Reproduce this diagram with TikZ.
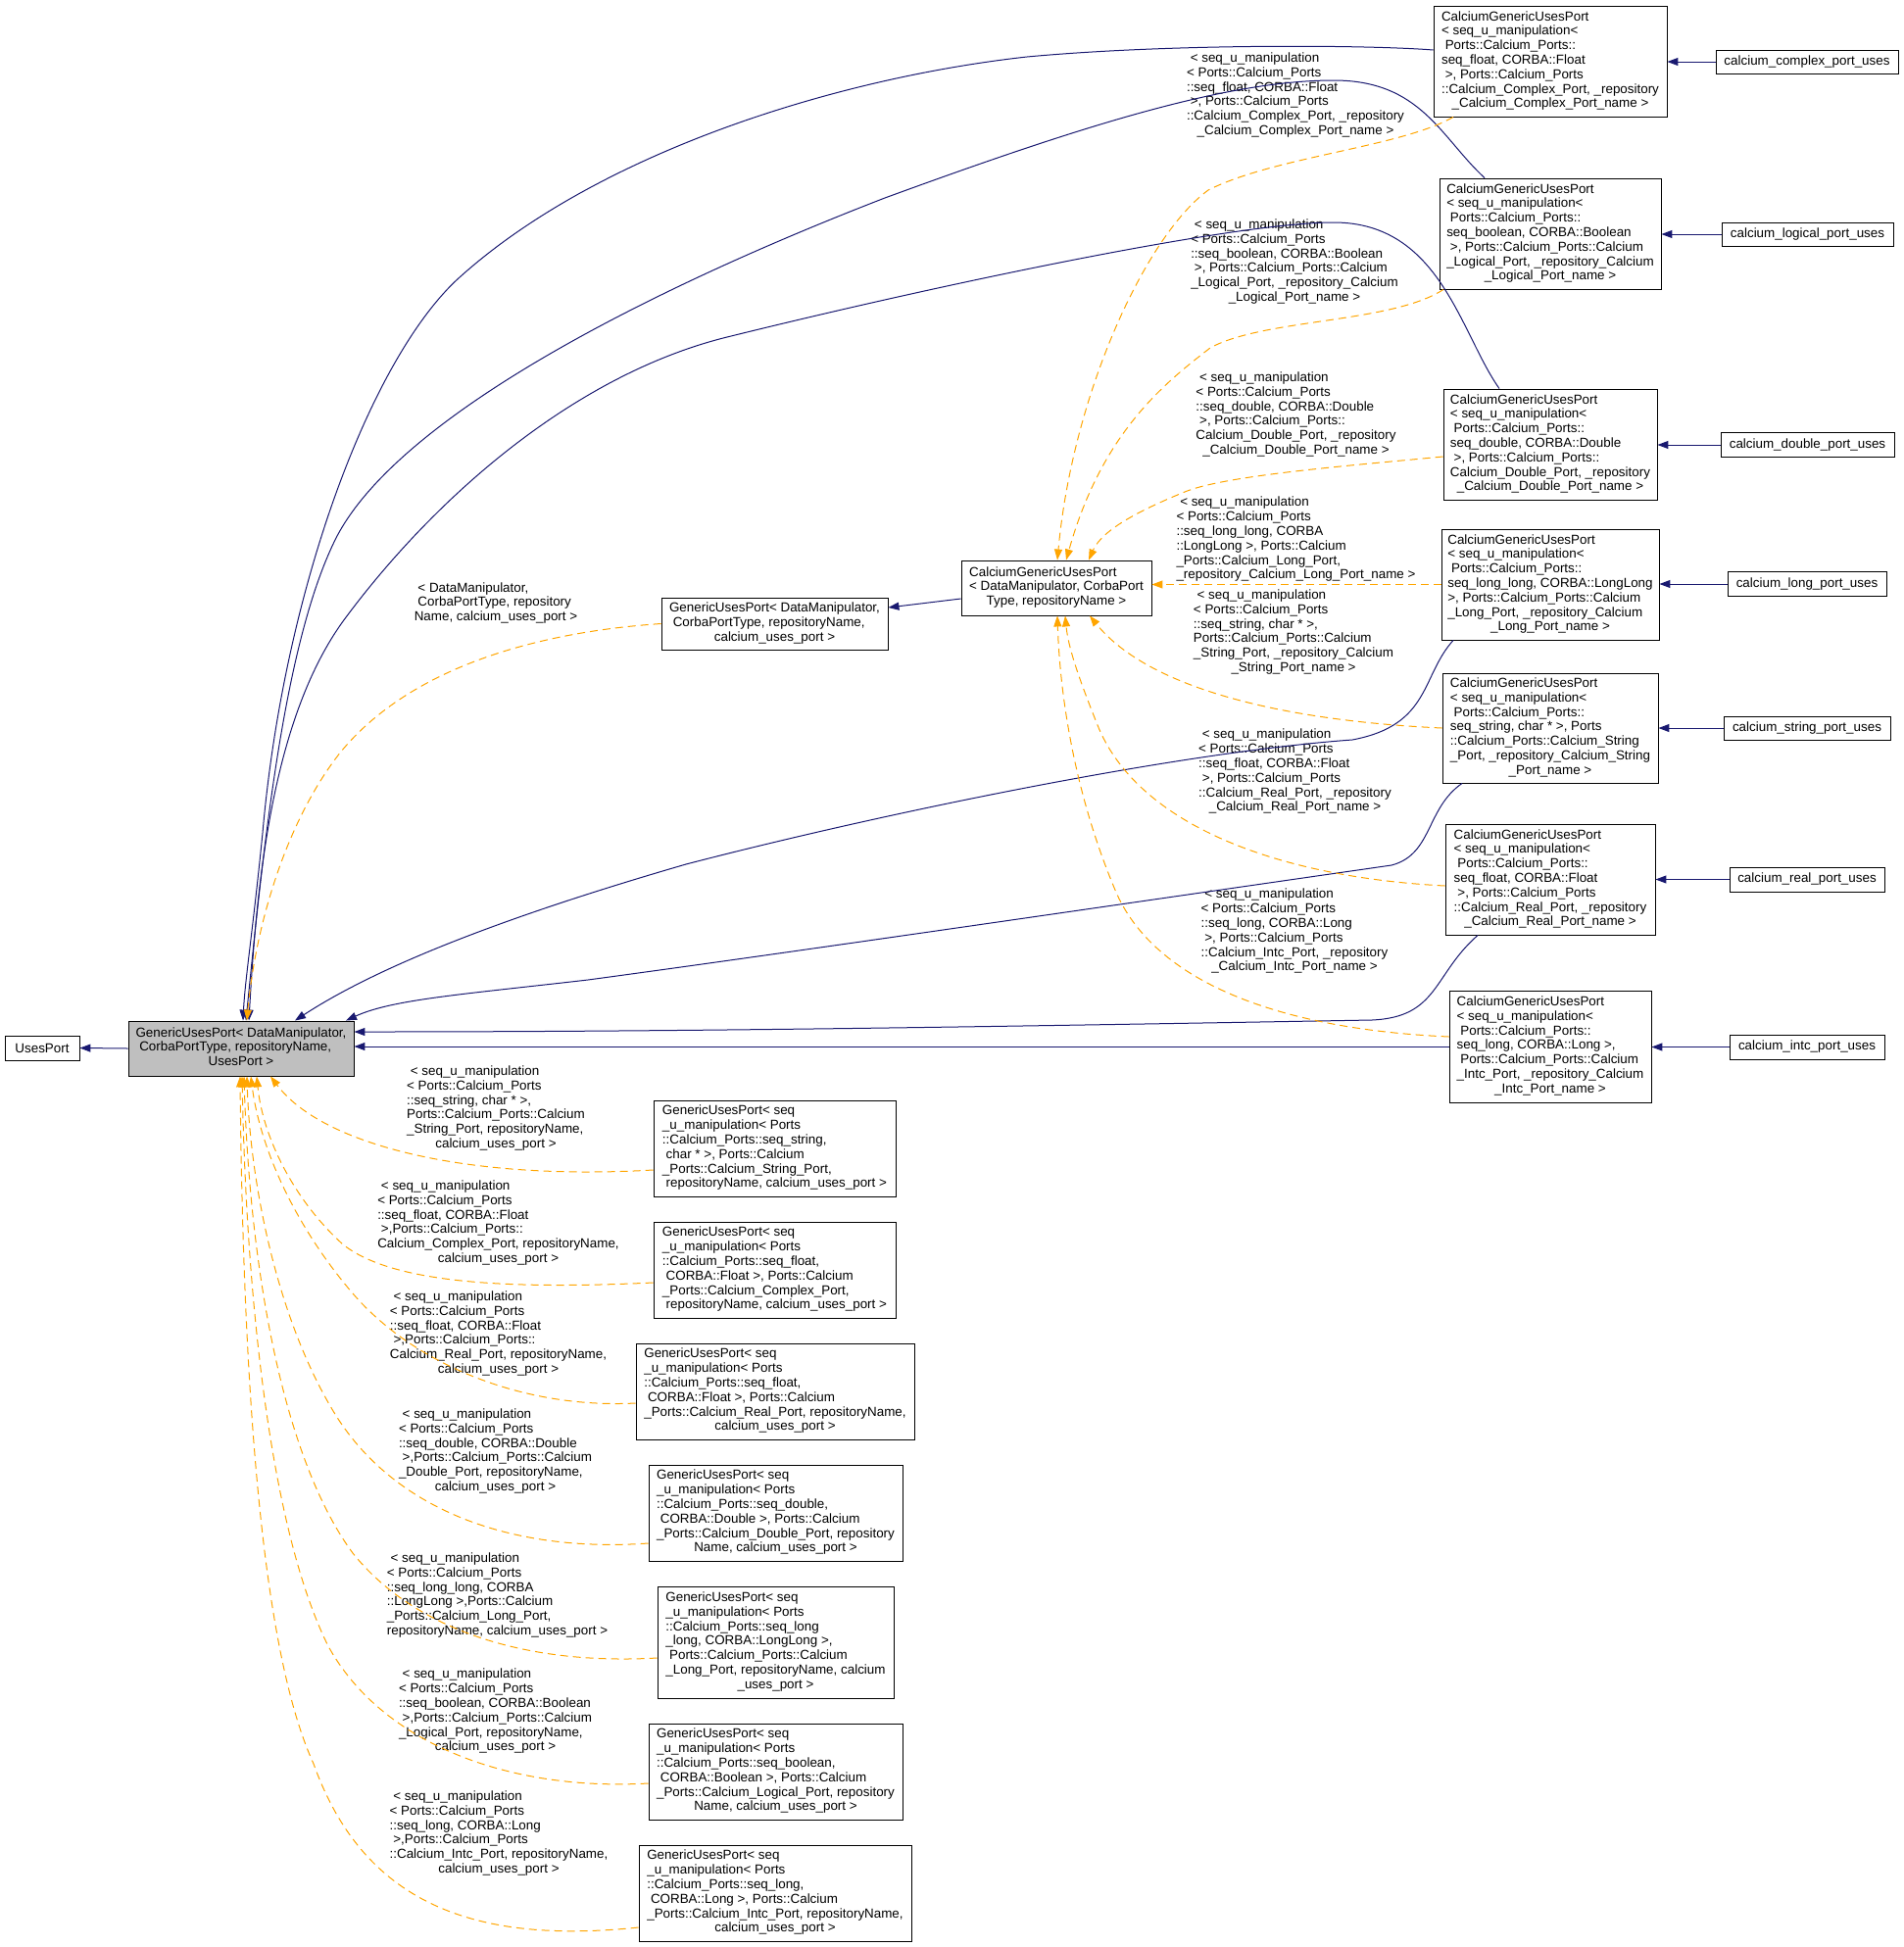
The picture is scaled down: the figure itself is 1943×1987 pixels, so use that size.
\documentclass[tikz,border=0pt]{standalone}
\usepackage{fontspec}
\setmainfont{Liberation Sans}
\usetikzlibrary{arrows.meta}
\definecolor{navy}{RGB}{25,25,112}
\definecolor{dorange}{RGB}{255,165,0}
\definecolor{mgray}{RGB}{191,191,191}
\newcommand\dfont{\fontsize{13.4}{14.8}\selectfont}
\newcommand\dtb[2]{\begin{tabular}{@{}l@{}}#1\\\multicolumn{1}{@{}c@{}}{#2}\end{tabular}}
\tikzset{
 box/.style={draw=black, line width=0.9pt, inner sep=0pt, font=\dfont},
 lbl/.style={inner sep=0pt, font=\dfont},
 inh/.style={draw=navy, line width=1pt, -{Triangle[length=11pt,width=8pt]}},
 tmpl/.style={draw=dorange, line width=1pt, dash pattern=on 8pt off 5pt, -{Triangle[length=11pt,width=8pt]}},
}
\begin{document}
\begin{tikzpicture}[x=1pt,y=-1pt]
\useasboundingbox (0,0) rectangle (1943,1987);
% ---------- main nodes
\node[box, minimum width=76, minimum height=25] (U) at (43,1069.5) {UsesPort};
\node[box, fill=mgray, minimum width=230, minimum height=56] (M) at (246,1070)
 {\dtb{GenericUsesPort< DataManipulator,\\ \ CorbaPortType, repositoryName,}{UsesPort >}};
\node[box, minimum width=231, minimum height=53] (GC) at (790.5,636.5)
 {\dtb{GenericUsesPort< DataManipulator,\\ \ CorbaPortType, repositoryName,}{calcium\_uses\_port >}};
\node[box, minimum width=194, minimum height=56] (CG) at (1078,600)
 {\dtb{CalciumGenericUsesPort\\< DataManipulator, CorbaPort}{Type, repositoryName >}};
% ---------- calcium generic instances
\node[box, minimum width=238, minimum height=113] (C1) at (1582,62.5)
 {\dtb{CalciumGenericUsesPort\\< seq\_u\_manipulation<\\ \ Ports::Calcium\_Ports::\\seq\_float, CORBA::Float\\ \ >, Ports::Calcium\_Ports\\::Calcium\_Complex\_Port, \_repository}{\_Calcium\_Complex\_Port\_name >}};
\node[box, minimum width=226, minimum height=113] (C2) at (1582,238.5)
 {\dtb{CalciumGenericUsesPort\\< seq\_u\_manipulation<\\ \ Ports::Calcium\_Ports::\\seq\_boolean, CORBA::Boolean\\ \ >, Ports::Calcium\_Ports::Calcium\\\_Logical\_Port, \_repository\_Calcium}{\_Logical\_Port\_name >}};
\node[box, minimum width=218, minimum height=113] (C3) at (1582,453.5)
 {\dtb{CalciumGenericUsesPort\\< seq\_u\_manipulation<\\ \ Ports::Calcium\_Ports::\\seq\_double, CORBA::Double\\ \ >, Ports::Calcium\_Ports::\\Calcium\_Double\_Port, \_repository}{\_Calcium\_Double\_Port\_name >}};
\node[box, minimum width=222, minimum height=113] (C4) at (1582,596.5)
 {\dtb{CalciumGenericUsesPort\\< seq\_u\_manipulation<\\ \ Ports::Calcium\_Ports::\\seq\_long\_long, CORBA::LongLong\\>, Ports::Calcium\_Ports::Calcium\\\_Long\_Port, \_repository\_Calcium}{\_Long\_Port\_name >}};
\node[box, minimum width=220, minimum height=112] (C5) at (1582,743)
 {\dtb{CalciumGenericUsesPort\\< seq\_u\_manipulation<\\ \ Ports::Calcium\_Ports::\\seq\_string, char * >, Ports\\::Calcium\_Ports::Calcium\_String\\\_Port, \_repository\_Calcium\_String}{\_Port\_name >}};
\node[box, minimum width=214, minimum height=113] (C6) at (1582,897.5)
 {\dtb{CalciumGenericUsesPort\\< seq\_u\_manipulation<\\ \ Ports::Calcium\_Ports::\\seq\_float, CORBA::Float\\ \ >, Ports::Calcium\_Ports\\::Calcium\_Real\_Port, \_repository}{\_Calcium\_Real\_Port\_name >}};
\node[box, minimum width=206, minimum height=114] (C7) at (1582,1068)
 {\dtb{CalciumGenericUsesPort\\< seq\_u\_manipulation<\\ \ Ports::Calcium\_Ports::\\seq\_long, CORBA::Long >,\\ \ Ports::Calcium\_Ports::Calcium\\\_Intc\_Port, \_repository\_Calcium}{\_Intc\_Port\_name >}};
% ---------- leaves
\node[box, minimum width=186, minimum height=24] (P1) at (1844,63) {calcium\_complex\_port\_uses};
\node[box, minimum width=175, minimum height=24] (P2) at (1844.5,239) {calcium\_logical\_port\_uses};
\node[box, minimum width=177, minimum height=25] (P3) at (1844.5,454) {calcium\_double\_port\_uses};
\node[box, minimum width=162, minimum height=25] (P4) at (1844,596) {calcium\_long\_port\_uses};
\node[box, minimum width=170, minimum height=24] (P5) at (1844,743) {calcium\_string\_port\_uses};
\node[box, minimum width=158, minimum height=25] (P6) at (1844,897.5) {calcium\_real\_port\_uses};
\node[box, minimum width=158, minimum height=25] (P7) at (1844,1068.5) {calcium\_intc\_port\_uses};
% ---------- generic instances (bottom)
\node[box, minimum width=247, minimum height=98] (G1) at (790.5,1172)
 {\dtb{GenericUsesPort< seq\\\_u\_manipulation< Ports\\::Calcium\_Ports::seq\_string,\\ \ char * >, Ports::Calcium\\\_Ports::Calcium\_String\_Port,}{\ repositoryName, calcium\_uses\_port >}};
\node[box, minimum width=247, minimum height=98] (G2) at (790.5,1296)
 {\dtb{GenericUsesPort< seq\\\_u\_manipulation< Ports\\::Calcium\_Ports::seq\_float,\\ \ CORBA::Float >, Ports::Calcium\\\_Ports::Calcium\_Complex\_Port,}{\ repositoryName, calcium\_uses\_port >}};
\node[box, minimum width=284, minimum height=98] (G3) at (791,1420)
 {\dtb{GenericUsesPort< seq\\\_u\_manipulation< Ports\\::Calcium\_Ports::seq\_float,\\ \ CORBA::Float >, Ports::Calcium\\\_Ports::Calcium\_Real\_Port, repositoryName,}{calcium\_uses\_port >}};
\node[box, minimum width=259, minimum height=98] (G4) at (791.5,1544)
 {\dtb{GenericUsesPort< seq\\\_u\_manipulation< Ports\\::Calcium\_Ports::seq\_double,\\ \ CORBA::Double >, Ports::Calcium\\\_Ports::Calcium\_Double\_Port, repository}{Name, calcium\_uses\_port >}};
\node[box, minimum width=241, minimum height=114] (G5) at (791.5,1676)
 {\dtb{GenericUsesPort< seq\\\_u\_manipulation< Ports\\::Calcium\_Ports::seq\_long\\\_long, CORBA::LongLong >,\\ \ Ports::Calcium\_Ports::Calcium\\\_Long\_Port, repositoryName, calcium}{\_uses\_port >}};
\node[box, minimum width=259, minimum height=98] (G6) at (791.5,1808)
 {\dtb{GenericUsesPort< seq\\\_u\_manipulation< Ports\\::Calcium\_Ports::seq\_boolean,\\ \ CORBA::Boolean >, Ports::Calcium\\\_Ports::Calcium\_Logical\_Port, repository}{Name, calcium\_uses\_port >}};
\node[box, minimum width=278, minimum height=98] (G7) at (791,1932)
 {\dtb{GenericUsesPort< seq\\\_u\_manipulation< Ports\\::Calcium\_Ports::seq\_long,\\ \ CORBA::Long >, Ports::Calcium\\\_Ports::Calcium\_Intc\_Port, repositoryName,}{calcium\_uses\_port >}};
% ---------- edge labels
\node[lbl] (LGC) at (506,616) {\dtb{\ < DataManipulator,\\ \ CorbaPortType, repository}{Name, calcium\_uses\_port >}};
\node[lbl] (LC1) at (1322,97.5) {\dtb{\ < seq\_u\_manipulation\\< Ports::Calcium\_Ports\\::seq\_float, CORBA::Float\\ \ >, Ports::Calcium\_Ports\\::Calcium\_Complex\_Port, \_repository}{\_Calcium\_Complex\_Port\_name >}};
\node[lbl] (LC2) at (1321,267.5) {\dtb{\ < seq\_u\_manipulation\\< Ports::Calcium\_Ports\\::seq\_boolean, CORBA::Boolean\\ \ >, Ports::Calcium\_Ports::Calcium\\\_Logical\_Port, \_repository\_Calcium}{\_Logical\_Port\_name >}};
\node[lbl] (LC3) at (1322.5,423.5) {\dtb{\ < seq\_u\_manipulation\\< Ports::Calcium\_Ports\\::seq\_double, CORBA::Double\\ \ >, Ports::Calcium\_Ports::\\Calcium\_Double\_Port, \_repository}{\_Calcium\_Double\_Port\_name >}};
\node[lbl] (LC4) at (1322.5,551) {\dtb{\ < seq\_u\_manipulation\\< Ports::Calcium\_Ports\\::seq\_long\_long, CORBA\\::LongLong >, Ports::Calcium\\\_Ports::Calcium\_Long\_Port,}{\_repository\_Calcium\_Long\_Port\_name >}};
\node[lbl] (LC5) at (1320,645.5) {\dtb{\ < seq\_u\_manipulation\\< Ports::Calcium\_Ports\\::seq\_string, char * >,\\Ports::Calcium\_Ports::Calcium\\\_String\_Port, \_repository\_Calcium}{\_String\_Port\_name >}};
\node[lbl] (LC6) at (1321.5,788) {\dtb{\ < seq\_u\_manipulation\\< Ports::Calcium\_Ports\\::seq\_float, CORBA::Float\\ \ >, Ports::Calcium\_Ports\\::Calcium\_Real\_Port, \_repository}{\_Calcium\_Real\_Port\_name >}};
\node[lbl] (LC7) at (1321,951) {\dtb{\ < seq\_u\_manipulation\\< Ports::Calcium\_Ports\\::seq\_long, CORBA::Long\\ \ >, Ports::Calcium\_Ports\\::Calcium\_Intc\_Port, \_repository}{\_Calcium\_Intc\_Port\_name >}};
\node[lbl] (LG1) at (506,1131.5) {\dtb{\ < seq\_u\_manipulation\\< Ports::Calcium\_Ports\\::seq\_string, char * >,\\Ports::Calcium\_Ports::Calcium\\\_String\_Port, repositoryName,}{calcium\_uses\_port >}};
\node[lbl] (LG2) at (508.5,1248.5) {\dtb{\ < seq\_u\_manipulation\\< Ports::Calcium\_Ports\\::seq\_float, CORBA::Float\\ \ >,Ports::Calcium\_Ports::\\Calcium\_Complex\_Port, repositoryName,}{calcium\_uses\_port >}};
\node[lbl] (LG3) at (508.5,1361.5) {\dtb{\ < seq\_u\_manipulation\\< Ports::Calcium\_Ports\\::seq\_float, CORBA::Float\\ \ >,Ports::Calcium\_Ports::\\Calcium\_Real\_Port, repositoryName,}{calcium\_uses\_port >}};
\node[lbl] (LG4) at (505.5,1481.5) {\dtb{\ < seq\_u\_manipulation\\< Ports::Calcium\_Ports\\::seq\_double, CORBA::Double\\ \ >,Ports::Calcium\_Ports::Calcium\\\_Double\_Port, repositoryName,}{calcium\_uses\_port >}};
\node[lbl] (LG5) at (507.5,1628.5) {\dtb{\ < seq\_u\_manipulation\\< Ports::Calcium\_Ports\\::seq\_long\_long, CORBA\\::LongLong >,Ports::Calcium\\\_Ports::Calcium\_Long\_Port,}{repositoryName, calcium\_uses\_port >}};
\node[lbl] (LG6) at (505.5,1747) {\dtb{\ < seq\_u\_manipulation\\< Ports::Calcium\_Ports\\::seq\_boolean, CORBA::Boolean\\ \ >,Ports::Calcium\_Ports::Calcium\\\_Logical\_Port, repositoryName,}{calcium\_uses\_port >}};
\node[lbl] (LG7) at (509,1871.5) {\dtb{\ < seq\_u\_manipulation\\< Ports::Calcium\_Ports\\::seq\_long, CORBA::Long\\ \ >,Ports::Calcium\_Ports\\::Calcium\_Intc\_Port, repositoryName,}{calcium\_uses\_port >}};
% ---------- inheritance edges (navy)
\draw[inh] (M.west) -- (U.east);
\draw[inh] (P1.west) -- (C1.east |- P1.west);
\draw[inh] (P2.west) -- (C2.east |- P2.west);
\draw[inh] (P3.west) -- (C3.east |- P3.west);
\draw[inh] (P4.west) -- (C4.east |- P4.west);
\draw[inh] (P5.west) -- (C5.east |- P5.west);
\draw[inh] (P6.west) -- (C6.east |- P6.west);
\draw[inh] (P7.west) -- (C7.east |- P7.west);
\draw[inh] ([shift={(0,11)}]CG.west) -- ([shift={(0,-16.5)}]GC.east);
\draw[inh] ([shift={(0,-11.5)}]C1.west) .. controls (1400,46) and (1200,44) .. (1048,58)
  .. controls (850,80) and (609,157) .. (469,283)
  .. controls (379,364) and (290,600) .. (268,850)
  .. controls (258,950) and (250,1000) .. ([shift={(2,0)}]M.north);
\draw[inh] ([shift={(-67,0)}]C2.north) .. controls (1470,140) and (1450,82) .. (1361,82)
  .. controls (1250,82) and (1100,130) .. (903,202)
  .. controls (650,300) and (400,430) .. (341,553)
  .. controls (291,657) and (270,850) .. ([shift={(5,0)}]M.north);
\draw[inh] ([shift={(-52,0)}]C3.north) .. controls (1490,340) and (1470,227) .. (1361,227)
  .. controls (1260,227) and (960,290) .. (742,344)
  .. controls (592,381) and (450,500) .. (353,630)
  .. controls (278,730) and (262,900) .. ([shift={(8,0)}]M.north);
\draw[inh] ([shift={(-99,0)}]C4.south) .. controls (1450,690) and (1460,740) .. (1380,755)
  .. controls (1200,768) and (900,830) .. (700,882)
  .. controls (500,940) and (380,990) .. ([shift={(55,0)}]M.north);
\draw[inh] ([shift={(-90,0)}]C5.south) .. controls (1455,825) and (1462,872) .. (1420,883)
  .. controls (1100,929) and (800,973) .. (600,1000)
  .. controls (470,1015) and (400,1020) .. ([shift={(107,0)}]M.north);
\draw[inh] ([shift={(-74,0)}]C6.south) .. controls (1462,995) and (1468,1038) .. (1400,1041)
  .. controls (1000,1048) and (700,1053) .. ([shift={(0,-17)}]M.east);
\draw[inh] (C7.west) -- (M.east |- C7.west);
% ---------- template edges (orange dashed)
\draw[tmpl] ([shift={(-99,0)}]C1.south) .. controls (1430,150) and (1300,160) .. (1233,194)
  .. controls (1170,240) and (1095,400) .. ([shift={(1,0)}]CG.north);
\draw[tmpl] ([shift={(-109,0)}]C2.south) .. controls (1420,330) and (1290,325) .. (1235,355)
  .. controls (1190,390) and (1125,440) .. ([shift={(10,0)}]CG.north);
\draw[tmpl] ([shift={(0,12.5)}]C3.west) .. controls (1380,475) and (1250,485) .. (1209,502)
  .. controls (1165,520) and (1125,540) .. ([shift={(33,0)}]CG.north);
\draw[tmpl] (C4.west) -- (CG.east |- C4.west);
\draw[tmpl] (C5.west) .. controls (1300,735) and (1170,700) .. ([shift={(34,0)}]CG.south);
\draw[tmpl] ([shift={(0,6.5)}]C6.west) .. controls (1300,895) and (1160,840) .. (1120,740)
  .. controls (1100,690) and (1090,660) .. ([shift={(9,0)}]CG.south);
\draw[tmpl] ([shift={(0,-10)}]C7.west) .. controls (1300,1050) and (1180,1000) .. (1140,913)
  .. controls (1100,820) and (1082,720) .. ([shift={(1,0)}]CG.south);
\draw[tmpl] (GC.west) .. controls (550,645) and (420,680) .. (348,767)
  .. controls (290,840) and (260,950) .. ([shift={(6,0)}]M.north);
\draw[tmpl] ([shift={(0,22)}]G1.west) .. controls (480,1205) and (330,1170) .. ([shift={(30,0)}]M.south);
\draw[tmpl] ([shift={(0,13)}]G2.west) .. controls (520,1316) and (400,1310) .. (350,1270)
  .. controls (300,1225) and (268,1160) .. ([shift={(16,0)}]M.south);
\draw[tmpl] ([shift={(0,12)}]G3.west) .. controls (530,1438) and (420,1390) .. (360,1320)
  .. controls (300,1250) and (265,1170) .. ([shift={(10,0)}]M.south);
\draw[tmpl] ([shift={(0,31)}]G4.west) .. controls (520,1585) and (400,1540) .. (340,1440)
  .. controls (280,1340) and (255,1200) .. ([shift={(6,0)}]M.south);
\draw[tmpl] ([shift={(0,16)}]G5.west) .. controls (530,1700) and (420,1660) .. (360,1585)
  .. controls (290,1490) and (255,1300) .. ([shift={(3,0)}]M.south);
\draw[tmpl] ([shift={(0,12)}]G6.west) .. controls (520,1828) and (390,1780) .. (335,1680)
  .. controls (280,1570) and (252,1350) .. ([shift={(1,0)}]M.south);
\draw[tmpl] ([shift={(0,35)}]G7.west) .. controls (480,1985) and (370,1940) .. (320,1800)
  .. controls (265,1680) and (248,1400) .. ([shift={(-1,0)}]M.south);
\end{tikzpicture}
\end{document}
